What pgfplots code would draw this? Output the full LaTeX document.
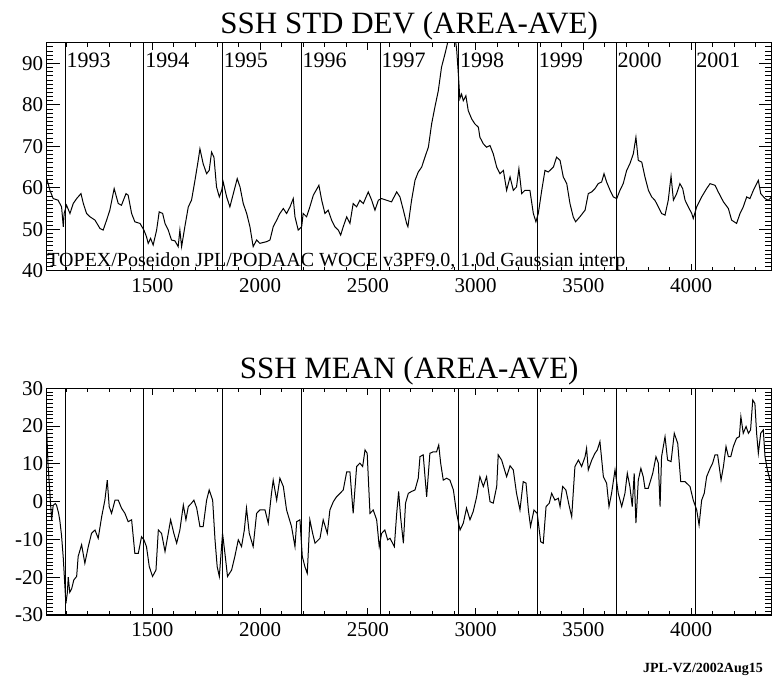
\documentclass[border=0pt]{standalone}
\usepackage{fontspec}
\setmainfont{Liberation Serif}
\usepackage{pgfplots}
\pgfplotsset{compat=1.18}

\pgfplotsset{
  ssh/.style={scale only axis,width=725pt,xmin=1010,xmax=4374,
    axis line style={line width=1.2pt},
    xtick pos=both,ytick pos=both,
    every tick/.append style={black,line width=0.9pt},
    /pgf/number format/assume math mode=true,/pgf/number format/1000 sep={},
    tick label style={font=\fontsize{21}{21}\selectfont}},
  xpart/.style={xtick={1500,2000,...,4000},minor xtick={1100,1200,...,4300},
    major tick length=7pt,minor tick length=4pt,ytick=\empty,
    xticklabel style={yshift=-4pt}},
  ypart/.style={xtick=\empty,major tick length=13pt,minor tick length=6.5pt,
    extra x ticks={1096,1461,1826,2191,2557,2922,3287,3652,4018},extra x tick labels={},
    extra x tick style={grid=major,major grid style={black,line width=0.9pt}}}
}
\tikzset{yr/.style={anchor=base west,inner sep=0pt,xshift=1.2pt,font=\fontsize{22}{22}\selectfont}}

\begin{document}
\begin{tikzpicture}
% top panel: SSH std dev, area average
\begin{axis}[ssh,xpart,at={(0,0)},anchor=north west,height=228pt,ymin=40,ymax=95]
\addplot[black,line width=1pt] table[x=day,y=sd] {
day sd
1010 62.2
1025 59.4
1040 57.4
1063 57.0
1079 55.4
1087 50.6
1091 53.8
1102 55.8
1118 53.8
1133 56.2
1149 57.4
1169 58.6
1180 56.2
1195 53.8
1211 53.0
1234 52.2
1257 50.2
1272 49.8
1288 52.2
1303 54.6
1323 59.8
1342 56.2
1357 55.8
1378 58.6
1388 58.2
1404 53.8
1419 51.8
1443 51.4
1461 49.8
1473 48.2
1481 46.6
1492 47.8
1504 46.2
1520 49.8
1532 54.2
1548 53.8
1559 51.4
1574 49.8
1589 47.4
1605 47.2
1620 45.8
1628 49.8
1636 45.8
1651 50.6
1667 55.4
1682 57.0
1698 61.8
1713 66.6
1721 69.4
1736 65.8
1752 63.4
1764 64.2
1775 68.6
1786 67.4
1798 60.2
1811 57.8
1822 59.4
1829 61.4
1845 57.8
1860 55.4
1876 58.6
1894 62.2
1907 60.2
1922 56.2
1938 53.8
1953 50.6
1968 45.8
1984 47.4
1999 46.6
2030 47.0
2046 47.4
2061 50.6
2077 52.2
2092 53.8
2108 55.0
2123 53.8
2139 55.4
2154 57.4
2162 53.0
2177 49.8
2193 50.6
2200 53.8
2216 53.0
2231 55.4
2247 58.2
2273 60.6
2286 57.0
2301 53.8
2316 54.6
2332 52.2
2347 50.6
2363 49.8
2374 48.6
2386 50.6
2402 53.0
2417 51.4
2432 56.2
2448 55.4
2463 57.0
2479 56.2
2502 59.0
2518 57.0
2533 54.6
2549 57.0
2564 57.4
2587 57.0
2610 56.6
2634 59.0
2649 57.8
2665 54.6
2680 51.4
2686 50.6
2703 57.0
2719 61.8
2734 63.8
2750 65.0
2765 67.4
2781 69.8
2796 75.4
2811 79.4
2827 83.4
2842 89.1
2858 92.3
2869 94.7
2885 99.0
2900 98.0
2912 93.5
2920 87.5
2927 81.5
2935 82.6
2943 81.0
2955 82.2
2966 78.6
2982 76.6
2997 75.4
3013 74.6
3020 72.2
3036 70.6
3051 69.8
3067 70.2
3082 68.2
3098 65.0
3113 63.4
3129 64.2
3144 59.4
3160 62.6
3175 59.4
3190 60.2
3201 64.6
3214 58.6
3229 59.4
3252 59.4
3268 53.8
3280 51.8
3291 53.8
3307 59.4
3322 64.2
3337 63.8
3361 65.0
3376 67.4
3392 66.6
3407 62.6
3423 61.0
3438 56.2
3453 53.0
3464 51.8
3484 53.0
3508 54.6
3523 58.6
3539 59.0
3554 59.8
3569 61.0
3585 61.4
3596 63.4
3608 61.4
3624 59.4
3639 57.8
3655 57.4
3670 59.4
3685 61.0
3701 64.2
3716 65.8
3732 68.2
3744 72.2
3755 66.6
3771 66.2
3786 62.6
3802 59.4
3817 57.8
3832 57.0
3848 55.4
3863 53.8
3879 53.4
3894 57.0
3907 62.8
3918 57.0
3933 58.6
3948 61.0
3961 59.8
3972 57.0
3987 55.4
4003 53.8
4010 52.6
4026 55.4
4049 57.8
4072 59.8
4088 61.0
4111 60.6
4126 59.0
4150 56.6
4173 55.0
4188 52.2
4211 51.4
4227 53.8
4242 55.4
4258 57.8
4273 57.4
4289 59.4
4312 61.8
4323 58.6
4343 57.4
4358 57.0
4374 57.8
};
\node[yr] at (axis cs:1096,89.04) {1993};
\node[yr] at (axis cs:1461,89.04) {1994};
\node[yr] at (axis cs:1826,89.04) {1995};
\node[yr] at (axis cs:2191,89.04) {1996};
\node[yr] at (axis cs:2557,89.04) {1997};
\node[yr] at (axis cs:2922,89.04) {1998};
\node[yr] at (axis cs:3287,89.04) {1999};
\node[yr] at (axis cs:3652,89.04) {2000};
\node[yr] at (axis cs:4018,89.04) {2001};
\node[anchor=base west,inner sep=0pt,font=\fontsize{20}{20}\selectfont] at (axis cs:1012,40.9) {TOPEX/Poseidon JPL/PODAAC WOCE v3PF9.0, 1.0d Gaussian interp};
\end{axis}
\begin{axis}[ssh,ypart,at={(0,0)},anchor=north west,height=228pt,ymin=40,ymax=95,
  ytick={40,50,...,90},minor ytick={40,41,...,95}]
\end{axis}
\node[anchor=base,inner sep=0pt,font=\fontsize{31}{31}\selectfont] at (362.5pt,9.4pt) {SSH STD DEV (AREA-AVE)};

% bottom panel: SSH mean, area average
\begin{axis}[ssh,xpart,at={(0,-345.6pt)},anchor=north west,height=226.7pt,ymin=-30,ymax=30]
\addplot[black,line width=1pt] table[x=day,y=mean] {
day mean
1010 19.0
1016 10.0
1025 2.0
1033 -5.0
1040 -1.0
1050 -0.5
1056 -1.0
1065 -3.0
1071 -5.0
1079 -9.0
1087 -15.0
1094 -22.0
1099 -27.0
1106 -24.0
1110 -20.0
1117 -24.0
1126 -23.0
1136 -20.7
1149 -19.8
1156 -14.5
1172 -11.4
1187 -16.3
1203 -11.9
1218 -8.4
1234 -7.5
1249 -9.7
1265 -4.0
1280 0.4
1291 5.7
1300 -1.3
1311 -3.1
1327 0.4
1342 0.4
1357 -1.7
1373 -3.1
1388 -5.3
1404 -4.8
1419 -13.7
1435 -13.7
1450 -9.3
1461 -10.1
1473 -11.9
1486 -17.2
1501 -19.8
1517 -18.1
1528 -7.5
1543 -8.4
1559 -13.2
1574 -8.4
1585 -4.8
1600 -8.4
1613 -11.0
1628 -7.5
1644 -0.9
1656 -4.8
1667 -1.3
1682 -0.4
1693 0.4
1706 -1.7
1721 -6.6
1736 -6.6
1752 0.4
1764 3.1
1780 0.4
1791 -10.1
1801 -17.2
1811 -19.8
1826 -8.4
1837 -13.7
1849 -19.8
1868 -18.1
1883 -14.5
1899 -10.1
1914 -11.9
1927 -7.5
1937 -1.7
1950 -8.4
1968 -11.9
1984 -3.1
1999 -2.2
2023 -2.2
2038 -5.7
2053 2.2
2061 5.7
2077 0.4
2092 6.2
2108 4.0
2123 -2.2
2146 -6.6
2162 -11.9
2170 -5.3
2185 -4.8
2196 -14.5
2208 -17.2
2219 -19.0
2231 -4.8
2244 -8.4
2255 -11.0
2278 -9.7
2293 -4.8
2312 -8.4
2324 -2.2
2340 0.0
2355 1.3
2371 2.2
2386 3.1
2402 7.9
2417 7.9
2432 -3.1
2448 9.3
2463 10.2
2476 9.3
2487 13.7
2497 12.8
2510 -3.1
2525 -2.2
2541 -4.8
2553 -11.9
2564 -8.4
2579 -7.5
2592 -10.1
2603 -9.7
2623 -11.9
2634 -3.1
2643 2.7
2652 -4.0
2665 -11.0
2675 -0.4
2688 2.2
2703 2.7
2719 3.1
2734 6.2
2742 11.9
2757 12.4
2773 1.3
2788 12.8
2804 13.2
2819 13.2
2829 15.0
2838 10.2
2850 5.7
2866 6.2
2881 5.7
2897 3.1
2912 -3.1
2928 -7.5
2943 -5.7
2958 -1.7
2974 -4.8
2989 -2.6
3005 1.3
3020 6.6
3036 4.0
3051 6.6
3067 0.0
3082 -0.4
3098 4.0
3105 12.4
3121 11.0
3144 6.6
3160 9.5
3175 8.4
3190 2.2
3206 -2.2
3221 5.3
3234 4.9
3245 -2.2
3255 -6.6
3271 -2.2
3286 -3.1
3302 -10.6
3314 -11.0
3327 -1.3
3342 -0.4
3353 2.2
3368 0.4
3384 0.9
3392 -1.3
3404 4.0
3419 3.1
3435 -1.3
3446 -4.0
3461 9.3
3477 11.0
3492 9.3
3508 11.9
3515 14.1
3523 8.4
3539 11.0
3554 12.8
3565 13.7
3577 15.9
3593 6.6
3608 4.9
3619 -1.3
3631 2.2
3647 8.4
3662 2.2
3678 -1.3
3693 2.2
3704 7.5
3716 4.0
3727 -1.3
3736 7.5
3744 -5.7
3755 5.7
3767 8.8
3778 6.6
3786 3.5
3801 3.5
3822 7.5
3837 11.9
3848 10.2
3856 -1.3
3863 11.9
3879 17.2
3891 11.0
3907 10.6
3922 18.1
3938 15.4
3952 5.3
3972 5.3
3995 4.0
4010 0.4
4026 -2.2
4037 -6.2
4049 0.4
4061 2.2
4072 6.6
4088 8.8
4100 10.2
4111 12.4
4123 12.4
4139 5.7
4150 9.3
4162 14.6
4173 11.9
4184 11.9
4196 14.6
4211 16.8
4224 17.2
4231 22.5
4242 18.1
4255 19.9
4266 18.1
4276 19.0
4286 26.9
4296 26.0
4304 18.1
4312 12.8
4323 18.1
4335 19.0
4343 11.9
4354 8.4
4366 5.7
4374 5.3
};
\end{axis}
\begin{axis}[ssh,ypart,at={(0,-345.6pt)},anchor=north west,height=226.7pt,ymin=-30,ymax=30,
  ytick={-30,-20,...,30},minor ytick={-30,-29,...,30}]
\end{axis}
\node[anchor=base,inner sep=0pt,font=\fontsize{31}{31}\selectfont] at (362.5pt,-335.6pt) {SSH MEAN (AREA-AVE)};

\node[anchor=base east,inner sep=0pt,font=\bfseries\fontsize{14}{14}\selectfont] at (716.3pt,-629.3pt) {JPL-VZ/2002Aug15};
\path (-46.7pt,42.7pt) rectangle (727.3pt,-638.3pt);
\end{tikzpicture}
\end{document}
